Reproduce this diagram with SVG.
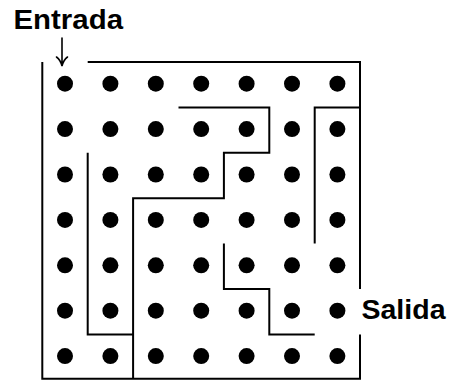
<svg xmlns="http://www.w3.org/2000/svg" width="449" height="380" viewBox="0 0 449 380">
  <style>
    .wall { fill: none; stroke: #000; stroke-width: 2; stroke-linejoin: miter; stroke-linecap: butt; }
    .dot { fill: #000; }
    .label { font-family: "Liberation Sans", Arial, sans-serif; font-weight: bold; font-size: 27px; fill: #000; }
    .arrow { fill: none; stroke: #000; stroke-width: 1.6; stroke-linecap: round; }
  </style>
  <defs>
    <circle id="d" r="8"/>
  </defs>

  <rect width="449" height="380" fill="#fff"/>

  <!-- grid of dots: 7 x 7, pitch 45.4 -->
  <g id="dots" class="dot" transform="translate(0,-1)">
    <g id="row1"><use href="#d" x="65" y="84.7"/><use href="#d" x="110.4" y="84.7"/><use href="#d" x="155.8" y="84.7"/><use href="#d" x="201.2" y="84.7"/><use href="#d" x="246.6" y="84.7"/><use href="#d" x="292" y="84.7"/><use href="#d" x="337.4" y="84.7"/></g>
    <g id="row2"><use href="#d" x="65" y="130.1"/><use href="#d" x="110.4" y="130.1"/><use href="#d" x="155.8" y="130.1"/><use href="#d" x="201.2" y="130.1"/><use href="#d" x="246.6" y="130.1"/><use href="#d" x="292" y="130.1"/><use href="#d" x="337.4" y="130.1"/></g>
    <g id="row3"><use href="#d" x="65" y="175.5"/><use href="#d" x="110.4" y="175.5"/><use href="#d" x="155.8" y="175.5"/><use href="#d" x="201.2" y="175.5"/><use href="#d" x="246.6" y="175.5"/><use href="#d" x="292" y="175.5"/><use href="#d" x="337.4" y="175.5"/></g>
    <g id="row4"><use href="#d" x="65" y="220.9"/><use href="#d" x="110.4" y="220.9"/><use href="#d" x="155.8" y="220.9"/><use href="#d" x="201.2" y="220.9"/><use href="#d" x="246.6" y="220.9"/><use href="#d" x="292" y="220.9"/><use href="#d" x="337.4" y="220.9"/></g>
    <g id="row5"><use href="#d" x="65" y="266.3"/><use href="#d" x="110.4" y="266.3"/><use href="#d" x="155.8" y="266.3"/><use href="#d" x="201.2" y="266.3"/><use href="#d" x="246.6" y="266.3"/><use href="#d" x="292" y="266.3"/><use href="#d" x="337.4" y="266.3"/></g>
    <g id="row6"><use href="#d" x="65" y="311.7"/><use href="#d" x="110.4" y="311.7"/><use href="#d" x="155.8" y="311.7"/><use href="#d" x="201.2" y="311.7"/><use href="#d" x="246.6" y="311.7"/><use href="#d" x="292" y="311.7"/><use href="#d" x="337.4" y="311.7"/></g>
    <g id="row7"><use href="#d" x="65" y="357.1"/><use href="#d" x="110.4" y="357.1"/><use href="#d" x="155.8" y="357.1"/><use href="#d" x="201.2" y="357.1"/><use href="#d" x="246.6" y="357.1"/><use href="#d" x="292" y="357.1"/><use href="#d" x="337.4" y="357.1"/></g>
  </g>

  <!-- maze walls on the half-pitch lines -->
  <g id="walls" class="wall">
    <!-- outer boundary: gap at top-left (entry) and right side (exit) -->
    <path d="M87.7,62 H360 V289"/>
    <path d="M360,334.4 V378.8 H42.3 V62"/>
    <!-- staircase from the top down to the bottom -->
    <path d="M178.5,107.4 H269.3 V152.8 H223.9 V198.2 H133.1 V378.8"/>
    <!-- right inner column -->
    <path d="M360,107.4 H314.7 V243.6"/>
    <!-- left inner column -->
    <path d="M87.7,152.8 V334.4 H133.1"/>
    <!-- lower step toward the exit -->
    <path d="M223.9,243.6 V289 H269.3 V334.4 H314.7"/>
  </g>

  <!-- labels -->
  <g id="entrada">
    <text class="label" x="13.5" y="29.3" textLength="109.5" lengthAdjust="spacingAndGlyphs">Entrada</text>
    <path class="arrow" d="M62,38 V65 M56.5,57 Q60.5,60 62,66 Q63.5,60 67.5,57"/>
  </g>
  <g id="salida">
    <text class="label" x="361.5" y="319.3" textLength="84" lengthAdjust="spacingAndGlyphs">Salida</text>
  </g>
</svg>
